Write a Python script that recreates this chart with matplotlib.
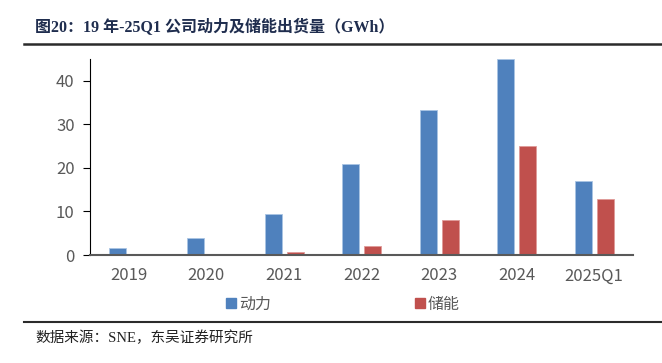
import matplotlib
matplotlib.use("Agg")
import matplotlib.pyplot as plt
import numpy as np
from matplotlib.lines import Line2D

plt.rcParams['font.family'] = ['Noto Sans CJK SC', 'DejaVu Sans']

categories = ['2019', '2020', '2021', '2022', '2023', '2024', '2025Q1']
power = [1.7, 4.0, 9.4, 20.9, 33.4, 45.0, 16.9]
storage = [0.2, 0.3, 0.7, 2.0, 8.0, 25.0, 12.8]
series_names = ['动力', '储能']
title = '图20：19 年-25Q1 公司动力及储能出货量（GWh）'
source = '数据来源：SNE，东吴证券研究所'

blue = '#4F81BD'
red = '#C0504D'

fig = plt.figure(figsize=(6.62, 3.63), dpi=100)
W, H = 662, 363
ax = fig.add_axes([90 / W, 1 - 255 / H, (633 - 90) / W, (255 - 59) / H])

x = np.arange(len(categories))
bw = 0.22
ax.bar(x - 0.14, power, width=bw, color=blue, edgecolor='#a9c4e4', linewidth=0.6, zorder=2)
ax.bar(x + 0.145, storage, width=bw, color=red, edgecolor='#e09a98', linewidth=0.6, zorder=2)

ax.set_xlim(-0.5, len(categories) - 0.5)
ax.set_ylim(0, 45)
ax.set_yticks([0, 10, 20, 30, 40])
ax.set_xticks(x)
ax.set_xticklabels(categories)
for s in ['top', 'right']:
    ax.spines[s].set_visible(False)
ax.spines['left'].set_color('#000000')
ax.spines['left'].set_linewidth(0.8)
ax.spines['bottom'].set_color('#595959')
ax.spines['bottom'].set_linewidth(1.5)
ax.spines['bottom'].set_zorder(3)
ax.tick_params(axis='y', colors='#595959', labelsize=12, length=5, width=0.8, pad=6)
ax.tick_params(axis='y', color='#000000')
ax.tick_params(axis='x', colors='#595959', labelsize=12, length=0, pad=9)

handles = [Line2D([], [], marker='s', linestyle='none', markersize=7, color=blue),
           Line2D([], [], marker='s', linestyle='none', markersize=7, color=red)]
fig.legend(handles, series_names, loc='center', bbox_to_anchor=(343 / W, 1 - 304 / H), ncol=2,
           frameon=False, fontsize=11.5, handlelength=0.6, handletextpad=0.2,
           columnspacing=9.0, labelcolor='#595959')

fig.text(35 / W, 1 - 28 / H, title, fontsize=11.5, fontweight='bold', color='#1F2D4E',
         va='center', ha='left', family=['Liberation Serif', 'Noto Sans CJK SC'])
fig.add_artist(Line2D([24 / W, 1], [1 - 44 / H, 1 - 44 / H], color='#2b2b2b', linewidth=1.8))
fig.add_artist(Line2D([24 / W, 1], [1 - 322 / H, 1 - 322 / H], color='#2b2b2b', linewidth=1.5))
fig.text(35 / W, 1 - 338 / H, source, fontsize=10.5, color='#222222', va='center', ha='left',
         family=['Liberation Serif', 'Noto Sans CJK SC'])

fig.savefig('out.png', dpi=100)
